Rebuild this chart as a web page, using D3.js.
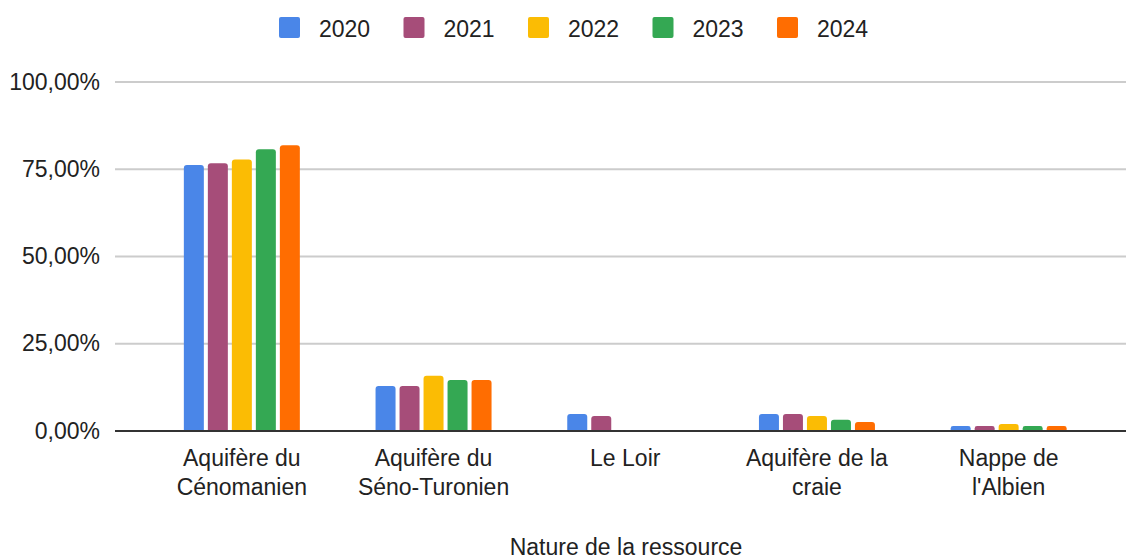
<!DOCTYPE html>
<html>
<head>
<meta charset="utf-8">
<script src="https://cdn.jsdelivr.net/npm/d3@7"></script>
<style>
  body { margin: 0; background: #fff; }
  text { font-family: "Liberation Sans", Arial, sans-serif; fill: #222; }
</style>
</head>
<body>
<div id="chart"></div>
<script>
const categories = [
  ["Aquifère du", "Cénomanien"],
  ["Aquifère du", "Séno-Turonien"],
  ["Le Loir"],
  ["Aquifère de la", "craie"],
  ["Nappe de", "l'Albien"]
];
const years = ["2020", "2021", "2022", "2023", "2024"];
const colors = ["#4a86e8", "#a64d79", "#fbbc04", "#34a853", "#ff6d01"];
// percent values per year, one entry per category (null = no data)
const v2020 = [76.2, 12.9, 4.9, 4.9, 1.4];
const v2021 = [76.7, 12.9, 4.3, 4.9, 1.4];
const v2022 = [77.8, 15.8, null, 4.3, 2.0];
const v2023 = [80.7, 14.6, null, 3.2, 1.4];
const v2024 = [81.9, 14.6, null, 2.6, 1.4];
const series = [v2020, v2021, v2022, v2023, v2024];
const yTicks = [0, 25, 50, 75, 100];

const width = 1126, height = 559;
const svg = d3.select("#chart").append("svg")
  .attr("width", width).attr("height", height);

const x = d3.scaleBand().domain(d3.range(categories.length)).range([146, 1104.5]);
const y = d3.scaleLinear().domain([0, 100]).range([431, 82]);
const barW = 20, barStep = 24;
const fs = "23px";

// gridlines
svg.append("g").selectAll("line").data(yTicks.slice(1)).enter().append("line")
  .attr("x1", 115).attr("x2", 1126)
  .attr("y1", d => y(d)).attr("y2", d => y(d))
  .attr("stroke", "#cccccc").attr("stroke-width", 2);

// y labels
svg.append("g").selectAll("text").data(yTicks).enter().append("text")
  .attr("x", 100).attr("y", d => y(d) + 7.5)
  .attr("text-anchor", "end").attr("font-size", fs)
  .text(d => d.toFixed(2).replace(".", ",") + "%");

// bars with rounded tops
function barPath(x0, y0, w, h, r) {
  r = Math.min(r, h / 2, w / 2);
  return `M${x0},${y0 + h}V${y0 + r}Q${x0},${y0} ${x0 + r},${y0}H${x0 + w - r}Q${x0 + w},${y0} ${x0 + w},${y0 + r}V${y0 + h}Z`;
}
series.forEach((vals, si) => {
  svg.append("g").selectAll("path").data(vals.map((v, i) => ({v, i})).filter(d => d.v != null))
    .enter().append("path")
    .attr("fill", colors[si])
    .attr("d", d => {
      const cx = x(d.i) + x.bandwidth() / 2;
      const x0 = cx - (barStep * years.length - (barStep - barW)) / 2 + si * barStep;
      return barPath(x0, y(d.v), barW, y(0) - y(d.v), 3);
    });
});

// baseline
svg.append("line").attr("x1", 115).attr("x2", 1126)
  .attr("y1", y(0)).attr("y2", y(0))
  .attr("stroke", "#333333").attr("stroke-width", 2);

// x labels
categories.forEach((lines, i) => {
  const t = svg.append("text")
    .attr("x", x(i) + x.bandwidth() / 2)
    .attr("text-anchor", "middle").attr("font-size", fs);
  lines.forEach((l, j) => {
    t.append("tspan").attr("x", x(i) + x.bandwidth() / 2).attr("y", 466 + j * 29).text(l);
  });
});

// axis title
svg.append("text").attr("x", 626).attr("y", 555)
  .attr("text-anchor", "middle").attr("font-size", fs)
  .text("Nature de la ressource");

// legend
const legend = svg.append("g").selectAll("g").data(years).enter().append("g")
  .attr("transform", (d, i) => `translate(${279 + i * 124.5},17)`);
legend.append("rect").attr("width", 21).attr("height", 21).attr("rx", 2)
  .attr("fill", (d, i) => colors[i]);
legend.append("text").attr("x", 40).attr("y", 19.5).attr("font-size", fs).text(d => d);
</script>
</body>
</html>
